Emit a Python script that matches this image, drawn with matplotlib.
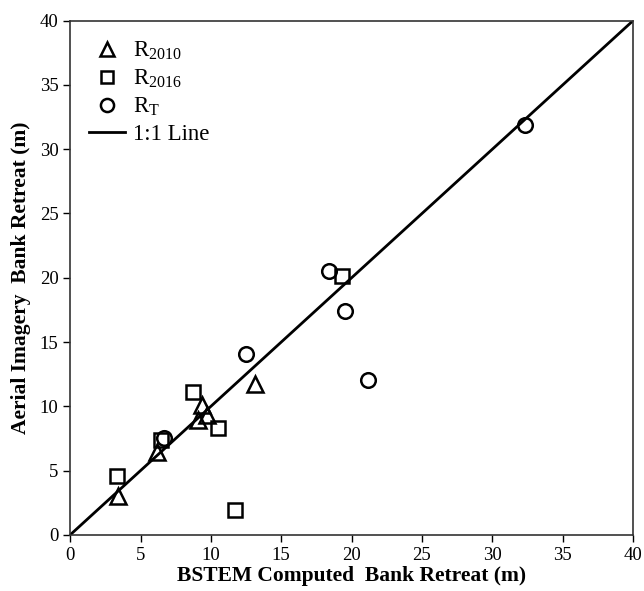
import matplotlib
matplotlib.use("Agg")
import matplotlib.pyplot as plt
import numpy as np

plt.rcParams['font.family'] = ['Liberation Serif', 'DejaVu Serif']
plt.rcParams['mathtext.fontset'] = 'custom'
plt.rcParams['mathtext.rm'] = 'Liberation Serif'
plt.rcParams['mathtext.it'] = 'Liberation Serif:italic'
plt.rcParams['mathtext.bf'] = 'Liberation Serif:bold'

# Data (BSTEM computed, aerial imagery)
r2010_x = [3.4, 6.15, 9.1, 9.4, 9.7, 13.15]
r2010_y = [3.0, 6.45, 8.9, 10.1, 9.3, 11.7]

r2016_x = [3.3, 6.45, 8.75, 10.5, 11.7, 19.3]
r2016_y = [4.55, 7.35, 11.1, 8.3, 1.95, 20.1]

rt_x = [6.7, 12.5, 18.4, 19.55, 21.15, 32.35]
rt_y = [7.5, 14.1, 20.55, 17.45, 12.05, 31.85]

line_x = [0, 40]
line_y = [0, 40]

xticks = [0, 5, 10, 15, 20, 25, 30, 35, 40]
yticks = [0, 5, 10, 15, 20, 25, 30, 35, 40]

fig = plt.figure(figsize=(6.44, 5.91), dpi=100)
ax = fig.add_axes([0.109, 0.095, 0.874, 0.870])

ax.plot(line_x, line_y, color='black', lw=2.0, label='1:1 Line', zorder=2)
ax.plot(r2010_x, r2010_y, linestyle='none', marker='^', ms=11, mfc='none',
        mec='black', mew=1.8, label=r'R$_{\mathregular{2010}}$', zorder=3)
ax.plot(r2016_x, r2016_y, linestyle='none', marker='s', ms=10, mfc='none',
        mec='black', mew=1.8, label=r'R$_{\mathregular{2016}}$', zorder=3)
ax.plot(rt_x, rt_y, linestyle='none', marker='o', ms=10.5, mfc='none',
        mec='black', mew=1.8, label=r'R$_{\mathregular{T}}$', zorder=3)

ax.set_xlim(0, 40)
ax.set_ylim(0, 40)
ax.set_xticks(xticks)
ax.set_yticks(yticks)
ax.tick_params(direction='out', length=5, width=1, labelsize=13.5, colors='black')
for s in ax.spines.values():
    s.set_linewidth(1.2)
    s.set_color('#333333')

ax.set_xlabel('BSTEM Computed  Bank Retreat (m)', fontsize=15.5, fontweight='bold', labelpad=2)
ax.set_ylabel('Aerial Imagery  Bank Retreat (m)', fontsize=15.5, fontweight='bold', labelpad=6)

handles, labels = ax.get_legend_handles_labels()
order = [1, 2, 3, 0]
ax.legend([handles[i] for i in order], [labels[i] for i in order],
          loc='upper left', frameon=False, fontsize=16.5, handlelength=1.55,
          handletextpad=0.35, labelspacing=0.25, borderaxespad=0.0, borderpad=0.0,
          markerscale=0.9, bbox_to_anchor=(0.034, 0.963))

fig.savefig('out.png', dpi=100)
